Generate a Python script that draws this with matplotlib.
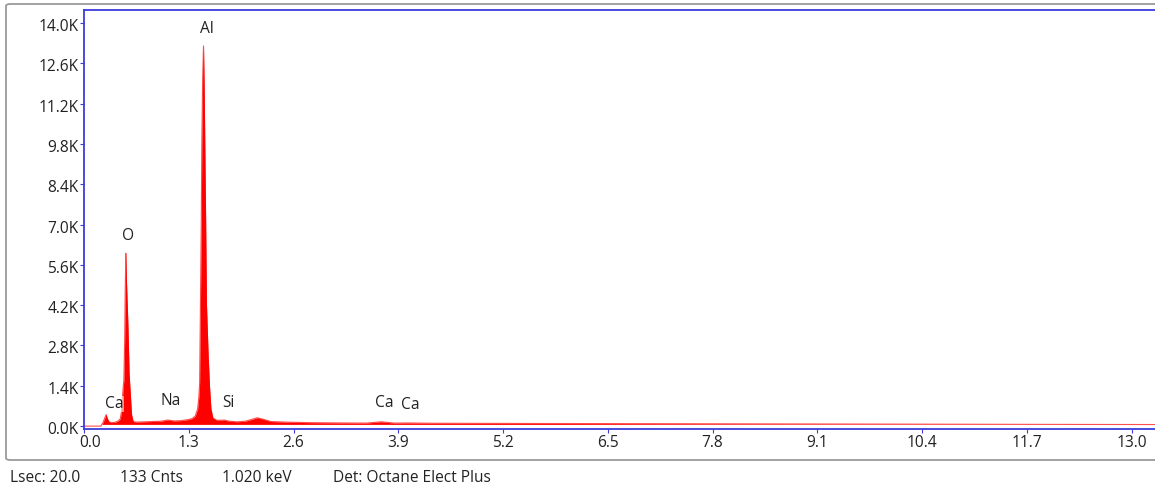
import numpy as np
import matplotlib
matplotlib.use('Agg')
from matplotlib import pyplot as plt
from matplotlib.patches import FancyBboxPatch
from matplotlib.transforms import ScaledTranslation

# spectrum (keV, counts)
energy = [0.00, 0.21, 0.24, 0.26, 0.275, 0.29, 0.31, 0.34, 0.38, 0.42, 0.45,
          0.465, 0.475, 0.485, 0.495, 0.505, 0.512, 0.519, 0.525, 0.532, 0.545,
          0.56, 0.575, 0.59, 0.61, 0.65, 0.75, 0.85, 0.95, 1.04, 1.12, 1.20,
          1.28, 1.34, 1.38, 1.41, 1.425, 1.435, 1.445, 1.455, 1.462, 1.472,
          1.483, 1.49, 1.499, 1.51, 1.52, 1.54, 1.557, 1.575, 1.60, 1.65,
          1.74, 1.80, 1.90, 2.00, 2.08, 2.15, 2.22, 2.32, 2.50, 2.80, 3.20,
          3.50, 3.69, 3.85, 4.01, 4.30, 5.0, 6.0, 7.0, 8.0, 9.0, 10.0, 11.0,
          12.0, 13.29]
counts = [0, 0, 150, 300, 400, 260, 150, 120, 130, 170, 250,
          500, 900, 1300, 1600, 3000, 4800, 6000, 5200, 4600, 3500,
          1800, 1100, 400, 160, 140, 150, 160, 170, 210, 180, 190,
          220, 260, 350, 600, 1000, 1500, 4200, 7000, 9800, 12000,
          13200, 12000, 9800, 7000, 4200, 2500, 1400, 600, 280, 200,
          210, 170, 150, 170, 230, 290, 240, 160, 140, 120, 110,
          105, 150, 105, 110, 100, 95, 90, 85, 80, 75, 70, 65,
          60, 55]

peak_names = ['Al', 'O', 'Ca', 'Na', 'Si', 'Ca', 'Ca']
peak_x = [1.52, 0.55, 0.38, 1.07, 1.79, 3.73, 4.05]
peak_y = [13800, 6600, 760, 860, 800, 800, 740]

xticks = [0.0, 1.3, 2.6, 3.9, 5.2, 6.5, 7.8, 9.1, 10.4, 11.7, 13.0]
yticks = [0, 1400, 2800, 4200, 5600, 7000, 8400, 9800, 11200, 12600, 14000]

status = ['Lsec: 20.0', '133 Cnts', '1.020 keV', 'Det: Octane Elect Plus']
status_x = [10, 120, 222, 333]

blue = '#3c3cdc'
red = '#ff0000'
plt.rcParams['font.family'] = ['Open Sans', 'DejaVu Sans']
plt.rcParams['font.size'] = 11.2

W, H = 1155, 490
fig = plt.figure(figsize=(W / 100, H / 100), dpi=100)

# grey outer frame
frame = FancyBboxPatch((6 / W, 30 / H), 1.2, (486 - 30) / H,
                       boxstyle='round,pad=0,rounding_size=0.004',
                       transform=fig.transFigure, fill=False,
                       edgecolor='#9a9a9a', linewidth=1.3)
fig.patches.append(frame)

ax = fig.add_axes([84 / W, 1 - 429 / H, 1 - 84 / W, (429 - 10) / H])
ax.fill_between(energy, counts, 60, where=np.array(counts) > 60,
                color=red, linewidth=0, interpolate=True)
ax.plot(energy, counts, color=red, linewidth=0.8, alpha=0.7)

for name, px, py in zip(peak_names, peak_x, peak_y):
    ax.text(px, py, name, ha='center', va='center', color='#222222',
            bbox=dict(facecolor='white', alpha=0.55, edgecolor='none', pad=0))

ax.set_xlim(0, 13.29)
ax.set_ylim(-100, 14450)
ax.set_xticks(xticks)
ax.set_xticklabels(['%.1f' % t for t in xticks])
ax.set_yticks(yticks)
ax.set_yticklabels(['%.1fK' % (t / 1000) for t in yticks])
ax.tick_params(axis='both', length=3, width=0.8, color=blue, labelcolor='#222222')
ax.tick_params(axis='x', pad=1)
ax.tick_params(axis='y', pad=1)
# first x label sits a little to the right, as in the original
first = ax.get_xticklabels()[0]
first.set_transform(first.get_transform() + ScaledTranslation(6 / 100, 0, fig.dpi_scale_trans))
for lab in ax.get_yticklabels():
    lab.set_transform(lab.get_transform() + ScaledTranslation(0, -2 / 100, fig.dpi_scale_trans))
for s in ['left', 'bottom', 'top']:
    ax.spines[s].set_color(blue)
    ax.spines[s].set_linewidth(1.3)
ax.spines['right'].set_visible(False)

for txt, sx in zip(status, status_x):
    fig.text(sx / W, 1 - 478 / H, txt, ha='left', va='center', color='#222222')

fig.savefig('out.png', dpi=100, facecolor='white')
